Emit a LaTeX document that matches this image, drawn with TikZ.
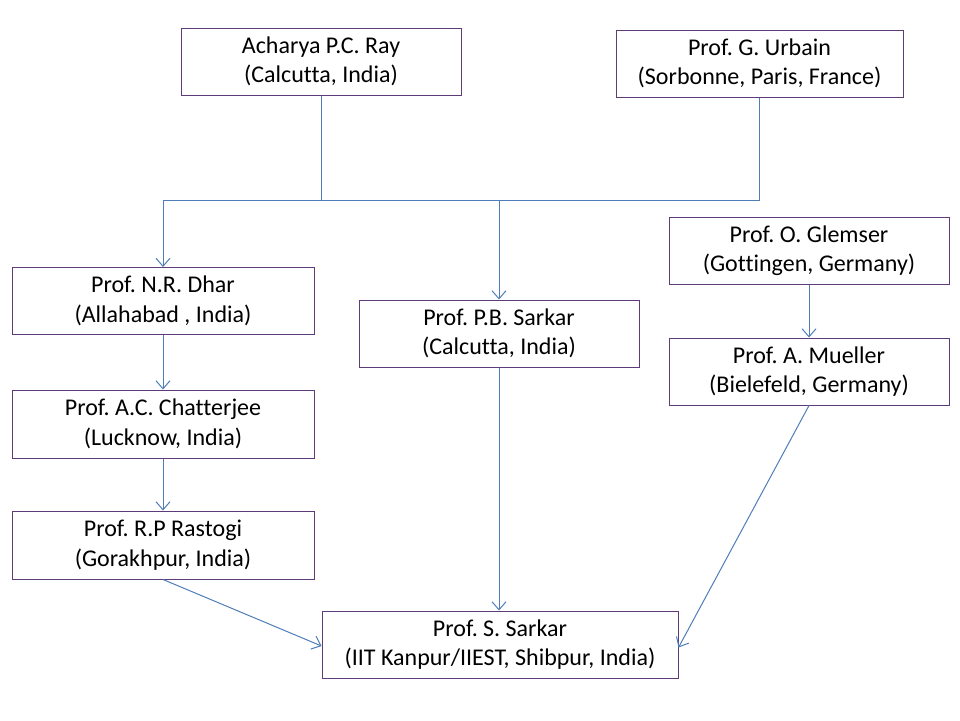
\documentclass[tikz,border=0pt]{standalone}
\usepackage{fontspec}
\setmainfont{Carlito}[Ligatures=NoCommon]
\frenchspacing
\usetikzlibrary{arrows.meta}
\definecolor{boxpurple}{HTML}{5F3B7A}
\definecolor{lineblue}{HTML}{4F7DB8}
\begin{document}
\begin{tikzpicture}[x=1pt,y=-1pt,
  person/.style={draw=boxpurple, line width=1pt, align=center, inner sep=0pt,
    minimum height=67pt, font=\fontsize{24}{29.5}\selectfont, text=black},
  link/.style={draw=lineblue, line width=1pt},
  arr/.style={link, -{Straight Barb[length=8pt,width=14pt]}}]
\useasboundingbox (0,0) rectangle (960,720);
\node[person, minimum width=280pt] (ray) at (321,61.5) {Acharya P.C. Ray\\(Calcutta, India)};
\node[person, minimum width=287pt] (urbain) at (759.5,63.5) {Prof. G. Urbain\\(Sorbonne, Paris, France)};
\node[person, minimum width=302pt] (dhar) at (163,301) {Prof. N.R. Dhar\\(Allahabad , India)};
\node[person, minimum width=302pt, minimum height=68pt] (chat) at (163,424) {Prof. A.C. Chatterjee\\(Lucknow, India)};
\node[person, minimum width=302pt, minimum height=68pt] (rast) at (163,545) {Prof. R.P Rastogi\\(Gorakhpur, India)};
\node[person, minimum width=280pt] (pbs) at (499,333.5) {Prof. P.B. Sarkar\\(Calcutta, India)};
\node[person, minimum width=280pt] (glem) at (809,250.5) {Prof. O. Glemser\\(Gottingen, Germany)};
\node[person, minimum width=280pt] (muel) at (809,371.5) {Prof. A. Mueller\\(Bielefeld, Germany)};
\node[person, minimum width=356pt] (ss) at (500,644.5) {Prof. S. Sarkar\\(IIT Kanpur/IIEST, Shibpur, India)};
\coordinate (hl) at (163,200.5);
\coordinate (hr) at (760,200.5);
\draw[link] (ray.south) -- (ray.south |- hl);
\draw[link] (urbain.south) -- (urbain.south |- hr);
\draw[link] (hl) -- (hr);
\draw[arr] (hl) -- (dhar.north);
\draw[arr] (pbs.north |- hl) -- (pbs.north);
\draw[arr] (dhar.south) -- (chat.north);
\draw[arr] (chat.south) -- (rast.north);
\draw[arr] (glem.south) -- (muel.north);
\draw[arr] (pbs.south) -- (ss.north -| pbs.south);
\draw[arr] (rast.south) -- ([yshift=-1.5pt]ss.west);
\draw[arr] (muel.south) -- ([yshift=-3pt]ss.east);
\end{tikzpicture}
\end{document}
